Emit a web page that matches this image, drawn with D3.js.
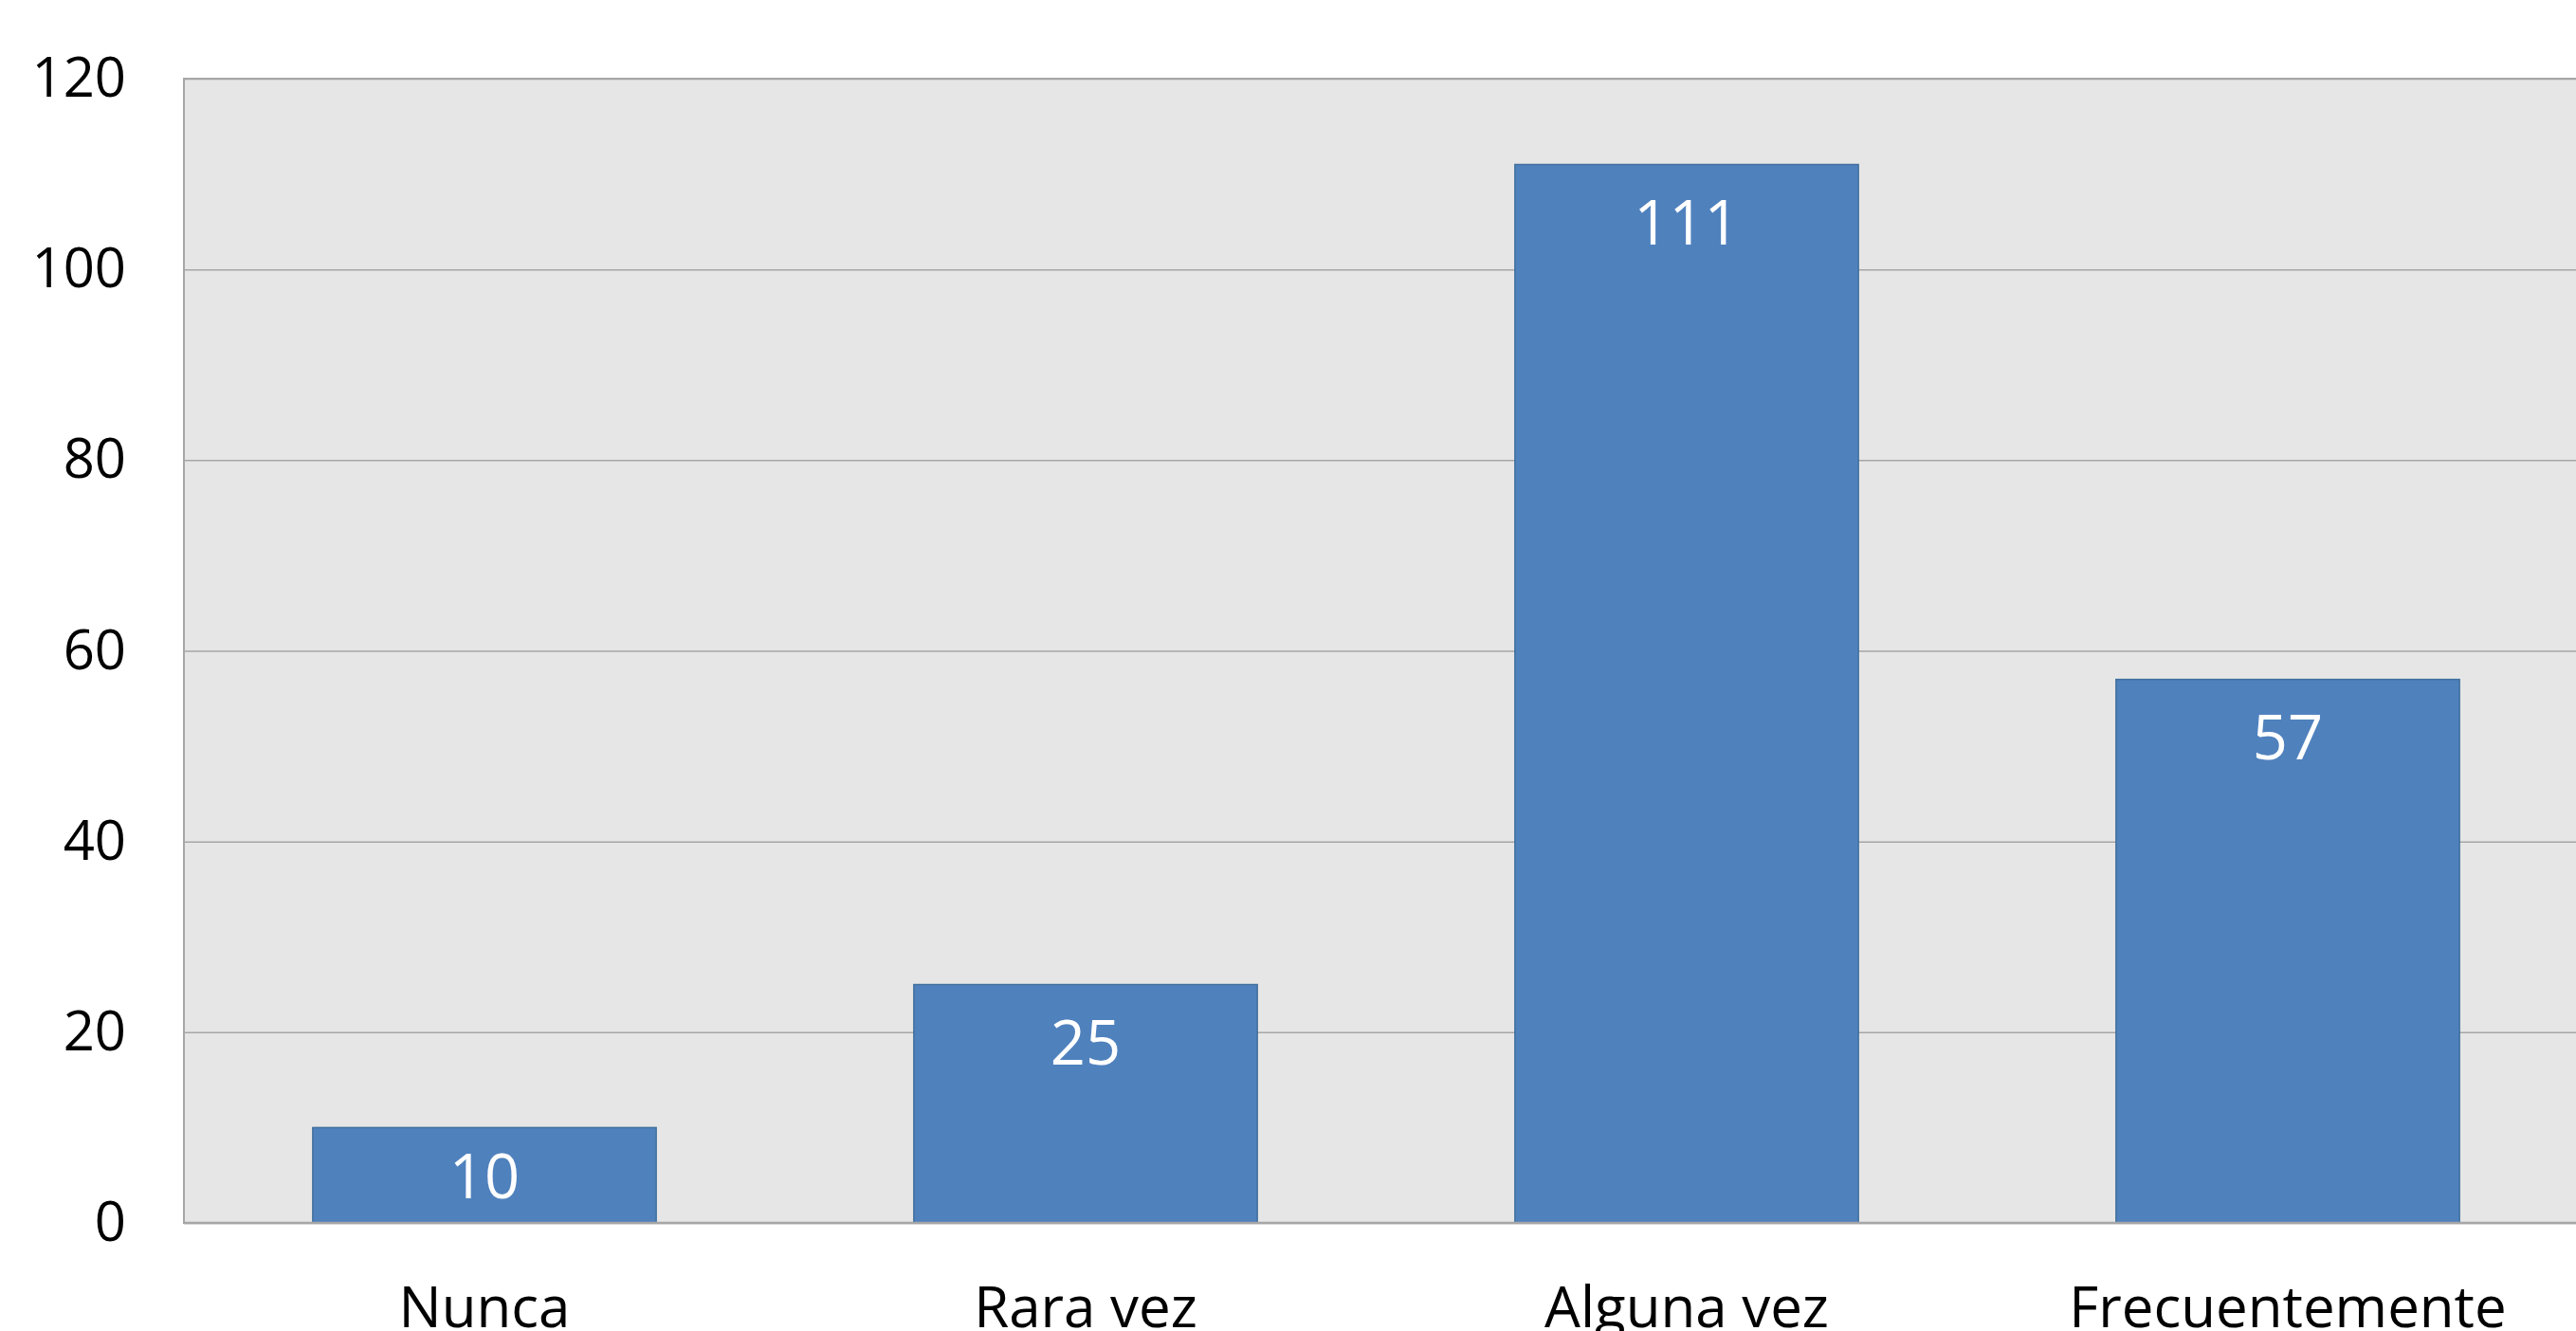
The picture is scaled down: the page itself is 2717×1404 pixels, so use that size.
<!DOCTYPE html>
<html>
<head>
<meta charset="utf-8">
<script src="https://cdn.jsdelivr.net/npm/d3@7"></script>
<style>
  html, body { margin: 0; padding: 0; background: #fff; overflow: hidden; }
  svg { display: block; font-family: "Open Sans", sans-serif; }
</style>
</head>
<body>
<div class="chart"></div>
<script>
var categories = ["Nunca", "Rara vez", "Alguna vez", "Frecuentemente"];
var values = [10, 25, 111, 57];
var yTicks = [0, 20, 40, 60, 80, 100, 120];

var W = 2717, H = 1404;
var plot = { left: 194, top: 83, right: 2730, bottom: 1290 };

var svg = d3.select(".chart").append("svg")
  .attr("width", W)
  .attr("height", H);

var x = d3.scaleBand()
  .domain(categories)
  .range([plot.left, plot.right])
  .paddingInner(0.4286)
  .paddingOuter(0.2143);

var y = d3.scaleLinear()
  .domain([0, 120])
  .range([plot.bottom, plot.top]);

// plot background
svg.append("rect")
  .attr("x", plot.left)
  .attr("y", plot.top)
  .attr("width", plot.right - plot.left)
  .attr("height", plot.bottom - plot.top)
  .attr("fill", "#e6e6e6")
  .attr("stroke", "#a6a6a6")
  .attr("stroke-width", 2);

// gridlines
svg.append("g")
  .attr("transform", "translate(" + plot.left + ",0)")
  .call(d3.axisLeft(y).tickValues(yTicks).tickSize(-(plot.right - plot.left)).tickFormat(""))
  .call(function(g) {
    g.select(".domain").remove();
    g.selectAll("line").attr("stroke", "#a6a6a6").attr("stroke-width", 1.5);
  });

// y labels
svg.append("g")
  .attr("transform", "translate(" + plot.left + ",0)")
  .call(d3.axisLeft(y).tickValues(yTicks).tickSize(0).tickPadding(61))
  .call(function(g) {
    g.select(".domain").remove();
    g.selectAll("text")
      .attr("fill", "#000")
      .style("font-size", "58px")
      .style("font-family", "'Open Sans', sans-serif");
  });

// bars
svg.selectAll("rect.bar").data(values).enter().append("rect")
  .attr("class", "bar")
  .attr("x", function(d, i) { return x(categories[i]); })
  .attr("y", function(d) { return y(d); })
  .attr("width", x.bandwidth())
  .attr("height", function(d) { return y(0) - y(d); })
  .attr("fill", "#4f81bd")
  .attr("stroke", "#41719c")
  .attr("stroke-width", 1.5);

// data labels (inside end; centred when the bar is too short)
svg.selectAll("text.val").data(values).enter().append("text")
  .attr("class", "val")
  .attr("x", function(d, i) { return x(categories[i]) + x.bandwidth() / 2; })
  .attr("y", function(d) { return Math.min(y(d) + 84, (y(d) + y(0)) / 2 + 24); })
  .attr("text-anchor", "middle")
  .attr("fill", "#fff")
  .style("font-size", "65px")
  .text(function(d) { return d; });

// baseline
svg.append("line")
  .attr("x1", plot.left).attr("x2", plot.right)
  .attr("y1", plot.bottom).attr("y2", plot.bottom)
  .attr("stroke", "#a6a6a6")
  .attr("stroke-width", 2.5);

// category labels
svg.selectAll("text.cat").data(categories).enter().append("text")
  .attr("class", "cat")
  .attr("x", function(d) { return x(d) + x.bandwidth() / 2; })
  .attr("y", 1400)
  .attr("text-anchor", "middle")
  .attr("fill", "#000")
  .style("font-size", "60px")
  .text(function(d) { return d; });
</script>
</body>
</html>
